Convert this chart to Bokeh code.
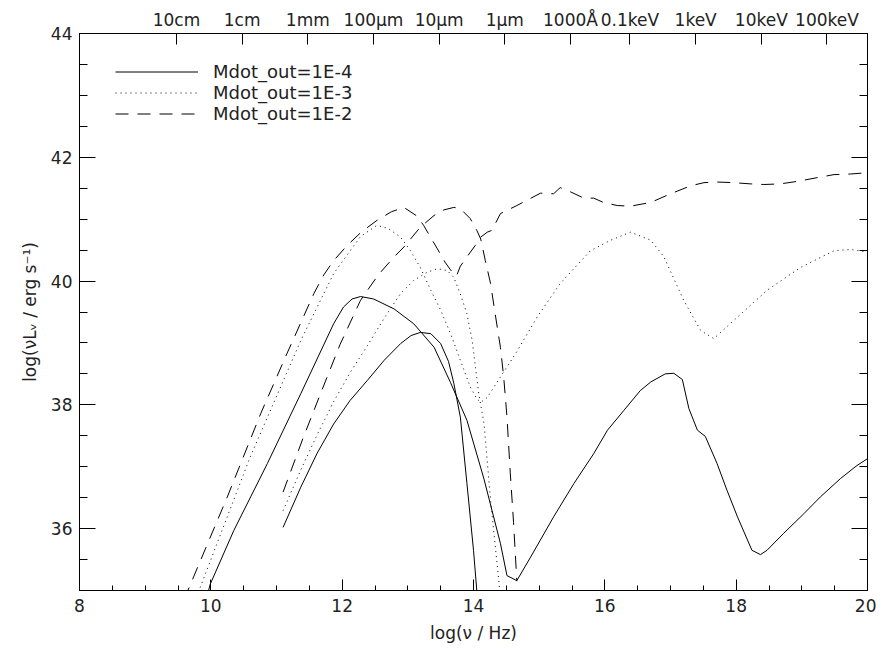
from bokeh.plotting import figure
from bokeh.models import (LinearAxis, FixedTicker, Range1d, Legend, LegendItem,
                          SingleIntervalTicker, CustomJSTickFormatter)
from bokeh.embed import file_html
from bokeh.resources import INLINE

# ---------------- data (log nu [Hz], log nuL_nu [erg/s]) ----------------
# Mdot_out = 1E-4 (solid)
solid_a_x = [9.93, 9.99, 10.35, 10.86, 11.37, 11.87, 12.02, 12.15, 12.28, 12.48, 12.79, 13.09,
             13.40, 13.65, 13.90, 14.16, 14.41, 14.51, 14.66, 14.87, 15.22, 15.53, 15.83, 16.04,
             16.29, 16.54, 16.70, 16.92, 17.05, 17.18, 17.28, 17.41, 17.53, 17.71, 17.86, 18.02,
             18.24, 18.37, 18.47, 18.72, 19.03, 19.28, 19.59, 19.84, 20.0]
solid_a_y = [34.85, 35.10, 35.97, 37.05, 38.18, 39.31, 39.58, 39.71, 39.75, 39.71, 39.55, 39.31,
             38.93, 38.36, 37.75, 36.80, 35.76, 35.24, 35.16, 35.54, 36.19, 36.73, 37.21, 37.59,
             37.91, 38.23, 38.37, 38.50, 38.51, 38.41, 37.94, 37.59, 37.49, 37.05, 36.62, 36.19,
             35.65, 35.58, 35.65, 35.92, 36.24, 36.51, 36.81, 37.02, 37.13]
solid_b_x = [11.10, 11.37, 11.62, 11.87, 12.12, 12.38, 12.64, 12.89, 13.05, 13.19, 13.35, 13.50,
             13.62, 13.70, 13.80, 13.90, 14.00, 14.05, 14.08]
solid_b_y = [36.02, 36.67, 37.22, 37.69, 38.07, 38.39, 38.72, 38.99, 39.12, 39.17, 39.15, 38.99,
             38.70, 38.35, 37.80, 36.73, 35.65, 35.00, 34.80]

# Mdot_out = 1E-3 (dotted)
dotted_a_x = [9.76, 9.82, 10.60, 11.37, 11.87, 12.28, 12.53, 12.70, 12.89, 13.04, 13.19, 13.35,
              13.50, 13.65, 13.80, 13.95, 14.05, 14.11, 14.21, 14.41, 14.66, 14.97, 15.32, 15.78,
              16.09, 16.39, 16.70, 16.90, 17.20, 17.46, 17.66, 17.96, 18.47, 18.98, 19.49, 19.74,
              20.0]
dotted_a_y = [34.82, 35.00, 37.16, 39.04, 40.12, 40.72, 40.90, 40.85, 40.71, 40.49, 40.22, 39.85,
              39.53, 39.15, 38.72, 38.29, 38.10, 38.04, 38.12, 38.45, 38.86, 39.42, 39.96, 40.49,
              40.66, 40.79, 40.66, 40.39, 39.69, 39.20, 39.07, 39.36, 39.85, 40.22, 40.49, 40.51,
              40.47]
dotted_b_x = [11.10, 11.37, 11.62, 11.87, 12.12, 12.38, 12.64, 12.89, 13.09, 13.29, 13.45, 13.60,
              13.70, 13.80, 13.90, 13.98, 14.03, 14.08, 14.16, 14.26, 14.39, 14.41]
dotted_b_y = [36.29, 36.95, 37.52, 38.05, 38.52, 38.95, 39.40, 39.80, 40.01, 40.14, 40.20, 40.17,
              40.06, 39.79, 39.47, 39.04, 38.61, 38.18, 37.70, 36.46, 35.11, 34.85]

# Mdot_out = 1E-2 (dashed)
dashed_a_x = [9.60, 9.65, 10.25, 10.76, 11.16, 11.57, 11.72, 11.87, 12.08, 12.30, 12.53, 12.75,
              12.94, 13.14, 13.24, 13.35, 13.45, 13.57, 13.65, 13.74, 13.80, 13.90, 14.03, 14.11,
              14.21, 14.28, 14.41, 14.66, 15.02, 15.22, 15.32, 15.48, 15.68, 15.83, 15.98, 16.19,
              16.39, 16.70, 17.00, 17.31, 17.51, 17.71, 17.96, 18.22, 18.42, 18.67, 18.93, 19.23,
              19.49, 19.74, 20.0]
dashed_a_y = [34.85, 35.00, 36.51, 37.86, 38.83, 39.80, 40.10, 40.33, 40.58, 40.80, 40.98, 41.12,
              41.19, 41.05, 40.90, 40.70, 40.52, 40.30, 40.18, 40.08, 40.24, 40.39, 40.58, 40.71,
              40.79, 40.82, 41.09, 41.22, 41.42, 41.41, 41.51, 41.44, 41.34, 41.34, 41.27, 41.22,
              41.21, 41.27, 41.41, 41.54, 41.59, 41.60, 41.59, 41.57, 41.56, 41.57, 41.61, 41.67,
              41.72, 41.73, 41.75]
dashed_b_x = [11.10, 11.40, 11.67, 11.97, 12.28, 12.55, 12.79, 12.94, 13.19, 13.40, 13.55, 13.70,
              13.80, 13.95, 14.05, 14.11, 14.18, 14.26, 14.33, 14.41, 14.46, 14.51, 14.56, 14.61,
              14.66]
dashed_b_y = [36.59, 37.45, 38.18, 38.98, 39.69, 40.10, 40.39, 40.55, 40.87, 41.06, 41.15, 41.19,
              41.17, 41.01, 40.82, 40.68, 40.33, 39.96, 39.47, 38.93, 38.45, 37.80, 36.90, 36.10,
              35.15]

legend_labels = ["Mdot_out=1E-4", "Mdot_out=1E-3", "Mdot_out=1E-2"]

# top axis: wavelength / energy labels at their log frequency
top_labels = ["10cm", "1cm", "1mm", "100\u03bcm", "10\u03bcm", "1\u03bcm", "1000\u00c5",
              "0.1keV", "1keV", "10keV", "100keV"]
top_logfreq = [9.477, 10.477, 11.477, 12.477, 13.477, 14.477, 15.477,
               16.383, 17.383, 18.383, 19.383]

# ---------------- figure ----------------
FONT = "DejaVu Sans"
FS = "17px"
TXT = "#222222"

p = figure(width=876, height=647, x_range=Range1d(8, 20), y_range=Range1d(35, 44),
           output_backend="svg", toolbar_location=None,
           min_border_left=79, min_border_right=9, min_border_top=33, min_border_bottom=57)
p.xgrid.grid_line_color = None
p.ygrid.grid_line_color = None
p.outline_line_color = "black"
p.outline_line_width = 1
p.background_fill_color = "white"
p.border_fill_color = "white"


def style_axis(ax, tin, tmin):
    ax.major_tick_in = tin
    ax.major_tick_out = 0
    ax.minor_tick_in = tmin
    ax.minor_tick_out = 0
    ax.axis_line_color = "black"
    ax.major_tick_line_color = "black"
    ax.minor_tick_line_color = "black"
    ax.major_label_text_font = FONT
    ax.major_label_text_font_size = FS
    ax.major_label_text_color = TXT
    ax.axis_label_text_font = FONT
    ax.axis_label_text_font_size = FS
    ax.axis_label_text_font_style = "normal"
    ax.axis_label_text_color = TXT


xa = p.xaxis[0]
xa.ticker = SingleIntervalTicker(interval=2, num_minor_ticks=4)
style_axis(xa, 11, 5)
xa.major_label_standoff = 8
xa.axis_label = "log(\u03bd / Hz)"
xa.axis_label_standoff = 8

ya = p.yaxis[0]
ya.ticker = SingleIntervalTicker(interval=2, num_minor_ticks=4)
style_axis(ya, 16, 8)
ya.major_label_standoff = 7
ya.axis_label = "log(\u03bdL\u1d65 / erg s\u207b\u00b9)"
ya.axis_label_standoff = 8

right = LinearAxis(ticker=SingleIntervalTicker(interval=2, num_minor_ticks=4),
                   formatter=CustomJSTickFormatter(code="return '';"))
style_axis(right, 16, 8)
right.major_label_standoff = 0
p.add_layout(right, "right")

top = LinearAxis(ticker=FixedTicker(ticks=top_logfreq, minor_ticks=[]),
                 formatter=CustomJSTickFormatter(
                     args=dict(tvals=top_logfreq, tlabs=top_labels),
                     code="""
let best = 0, bd = 1e9;
for (let i = 0; i < tvals.length; i++) {
  const d = Math.abs(tvals[i] - tick);
  if (d < bd) { bd = d; best = i; }
}
return tlabs[best];
"""))
style_axis(top, 11, 0)
top.major_label_standoff = 4
p.add_layout(top, "above")

# ---------------- curves ----------------
r1 = p.line(solid_a_x, solid_a_y, line_color="black", line_width=1)
p.line(solid_b_x, solid_b_y, line_color="black", line_width=1)
r2 = p.line(dotted_a_x, dotted_a_y, line_color="black", line_width=1, line_dash="1 4")
p.line(dotted_b_x, dotted_b_y, line_color="black", line_width=1, line_dash="1 4")
r3 = p.line(dashed_a_x, dashed_a_y, line_color="black", line_width=1, line_dash="13 9")
p.line(dashed_b_x, dashed_b_y, line_color="black", line_width=1, line_dash="13 9")

legend = Legend(items=[LegendItem(label=legend_labels[0], renderers=[r1]),
                       LegendItem(label=legend_labels[1], renderers=[r2]),
                       LegendItem(label=legend_labels[2], renderers=[r3])],
                location=(36, 466), orientation="vertical",
                background_fill_alpha=0, border_line_color=None,
                glyph_width=83, glyph_height=21, label_height=21, spacing=0,
                padding=0, margin=0, label_standoff=15,
                label_text_font=FONT, label_text_font_size="18px", label_text_color=TXT)
p.add_layout(legend)

open("out.html", "w").write(file_html(p, INLINE))
